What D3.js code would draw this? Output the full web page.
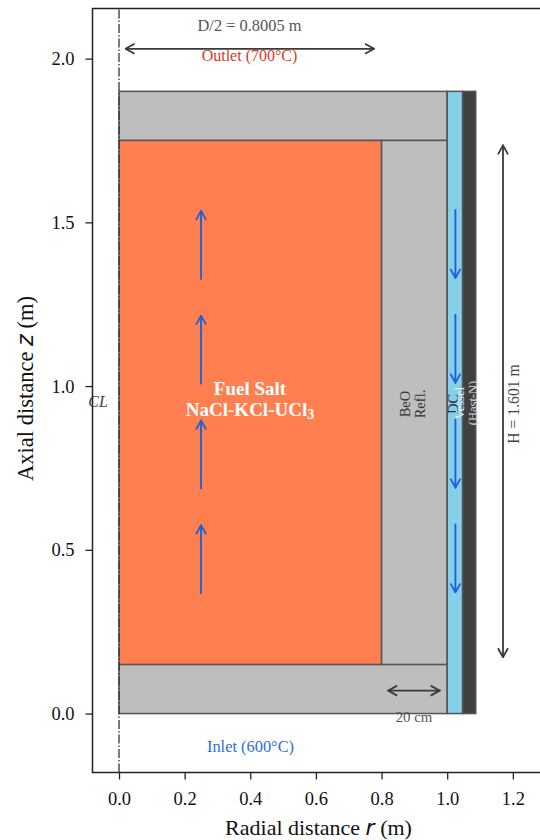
<!DOCTYPE html>
<html>
<head>
<meta charset="utf-8">
<script src="https://cdn.jsdelivr.net/npm/d3@7"></script>
<style>
  html, body { margin: 0; padding: 0; background: #fff; }
  text { font-family: "Liberation Serif", serif; }
</style>
</head>
<body>
<div id="chart"></div>
<script>
const rTicks = [0, 0.2, 0.4, 0.6, 0.8, 1.0, 1.2];
const zTicks = [0, 0.5, 1.0, 1.5, 2.0];

// regions in metres: r start, r end, z start, z end
const regionNames = ["topRefl", "bottomRefl", "core", "radialRefl", "downcomer", "vessel"];
const regionR0 = [0, 0, 0, 0.8, 1.0, 1.047];
const regionR1 = [1.0, 1.0, 0.8, 1.0, 1.047, 1.087];
const regionZ0 = [1.75, 0, 0.15, 0.15, 0, 0];
const regionZ1 = [1.9, 0.15, 1.75, 1.75, 1.9, 1.9];
const regionFill = ["#bebebe", "#bebebe", "#ff7f50", "#bebebe", "#87ceeb", "#404040"];

// flow arrows
const upStart = [0.365, 0.685, 1.005, 1.325];
const upEnd = [0.575, 0.895, 1.215, 1.535];
const downStart = [0.58, 0.9, 1.22, 1.54];
const downEnd = [0.37, 0.69, 1.01, 1.33];
const flowUpR = 0.25;
const flowDownR = 1.025;

const width = 540, height = 840;
const margin = { top: 8.5, left: 92.5, bottom: 772.5 };

const x = d3.scaleLinear().domain([-0.0808, 1.3]).range([margin.left, 119 + 1.3 * 328.2]);
const y = d3.scaleLinear().domain([-0.18, 2.153]).range([margin.bottom, margin.top]);

const svg = d3.select("#chart").append("svg")
  .attr("width", width)
  .attr("height", height)
  .style("display", "block");

const defs = svg.append("defs");
function marker(id, color, w) {
  defs.append("marker")
    .attr("id", id)
    .attr("viewBox", "-11 -6 12 12")
    .attr("refX", 0)
    .attr("refY", 0)
    .attr("markerUnits", "userSpaceOnUse")
    .attr("markerWidth", 12)
    .attr("markerHeight", 12)
    .attr("orient", "auto-start-reverse")
    .append("path")
    .attr("d", "M-9,-5 L0,0 L-9,5")
    .attr("fill", "none")
    .attr("stroke", color)
    .attr("stroke-width", w);
}
marker("headBlue", "#1a62d6", 1.8);
marker("headDark", "#3a3a3a", 1.8);

// geometry
svg.append("g").selectAll("rect")
  .data(regionNames)
  .enter()
  .append("rect")
  .attr("x", (d, i) => x(regionR0[i]))
  .attr("y", (d, i) => y(regionZ1[i]))
  .attr("width", (d, i) => x(regionR1[i]) - x(regionR0[i]))
  .attr("height", (d, i) => y(regionZ0[i]) - y(regionZ1[i]))
  .attr("fill", (d, i) => regionFill[i])
  .attr("stroke", "#555")
  .attr("stroke-width", 1.5);

// centreline
svg.append("line")
  .attr("x1", x(0)).attr("x2", x(0))
  .attr("y1", y.range()[0]).attr("y2", y.range()[1])
  .attr("stroke", "#333")
  .attr("stroke-width", 1.3)
  .attr("stroke-dasharray", "9 2 1.5 2");

// flow arrows
const flow = svg.append("g").attr("stroke", "#1a62d6").attr("stroke-width", 1.9).attr("fill", "none");
upStart.forEach((d, i) => {
  flow.append("line")
    .attr("x1", x(flowUpR)).attr("x2", x(flowUpR))
    .attr("y1", y(d)).attr("y2", y(upEnd[i]))
    .attr("marker-end", "url(#headBlue)");
});
downStart.forEach((d, i) => {
  flow.append("line")
    .attr("x1", x(flowDownR)).attr("x2", x(flowDownR))
    .attr("y1", y(d)).attr("y2", y(downEnd[i]))
    .attr("marker-end", "url(#headBlue)");
});

// dimension arrows
function dimension(r0, z0, r1, z1) {
  svg.append("line")
    .attr("x1", x(r0)).attr("y1", y(z0))
    .attr("x2", x(r1)).attr("y2", y(z1))
    .attr("stroke", "#3a3a3a")
    .attr("stroke-width", 1.8)
    .attr("marker-start", "url(#headDark)")
    .attr("marker-end", "url(#headDark)");
}
dimension(0.02, 2.03, 0.777, 2.03);
dimension(1.17, 0.172, 1.17, 1.735);
dimension(0.82, 0.07, 0.977, 0.07);

function label(px, py, str, size, color, opts = {}) {
  const t = svg.append("text")
    .attr("text-anchor", "middle")
    .attr("fill", color)
    .style("font-size", size + "px")
    .style("font-weight", opts.weight || "normal")
    .style("font-style", opts.style || "normal")
    .attr("transform", `translate(${px},${py})` + (opts.rotate ? ` rotate(${opts.rotate})` : ""))
    .text(str);
  return t;
}

label(249.5, 31, "D/2 = 0.8005 m", 16.4, "#555");
label(249.5, 61, "Outlet (700°C)", 16, "#d83a22");
label(250.5, 752, "Inlet (600°C)", 16.4, "#2a6fdc");
label(414, 722, "20 cm", 14.8, "#555");
label(98, 407, "CL", 16, "#444", { style: "italic" });
label(250, 395, "Fuel Salt", 19, "#fff", { weight: "bold" });
const salt = label(250, 416, "NaCl-KCl-UCl", 19, "#fff", { weight: "bold" });
salt.append("tspan").attr("dy", 3).style("font-size", "14px").text("3");

label(410, 404, "BeO", 14.5, "#333", { rotate: -90 });
label(425, 404, "Refl.", 14.5, "#333", { rotate: -90 });
label(458, 404, "DC", 14.5, "#333", { rotate: -90 });
label(464, 403, "Vessel", 12.5, "#f2f8fc", { rotate: -90 });
label(477, 403, "(Hast-N)", 12.5, "#d8d8d8", { rotate: -90 });
label(519, 404, "H = 1.601 m", 15.7, "#444", { rotate: -90 });

// axes
const xAxis = d3.axisBottom(x).tickValues(rTicks).tickFormat(d3.format(".1f")).tickSize(7).tickPadding(12);
const yAxis = d3.axisLeft(y).tickValues(zTicks).tickFormat(d3.format(".1f")).tickSize(7).tickPadding(11);

const gx = svg.append("g").attr("transform", `translate(0,${margin.bottom})`).call(xAxis);
const gy = svg.append("g").attr("transform", `translate(${margin.left},0)`).call(yAxis);
[gx, gy].forEach(g => {
  g.selectAll("text")
    .style("font-size", "18.5px")
    .attr("fill", "#111");
  g.selectAll("line").attr("stroke", "#222").attr("stroke-width", 1.3);
  g.select(".domain").remove();
});

// spines, the right one falls past the window edge
svg.append("rect")
  .attr("x", margin.left).attr("y", margin.top)
  .attr("width", x.range()[1] - margin.left)
  .attr("height", margin.bottom - margin.top)
  .attr("fill", "none")
  .attr("stroke", "#222")
  .attr("stroke-width", 1.5);

const xLabel = svg.append("text")
  .attr("x", 318.5).attr("y", 835)
  .attr("text-anchor", "middle")
  .attr("fill", "#111")
  .style("font-size", "22px")
  .text("Radial distance ");
xLabel.append("tspan")
  .style("font-family", "'DejaVu Sans'").style("font-style", "oblique").text("r");
xLabel.append("tspan").text(" (m)");

const yLabel = svg.append("text")
  .attr("transform", "translate(33,388.5) rotate(-90)")
  .attr("text-anchor", "middle")
  .attr("fill", "#111")
  .style("font-size", "22.5px")
  .text("Axial distance ");
yLabel.append("tspan")
  .style("font-family", "'DejaVu Sans'").style("font-style", "oblique").text("z");
yLabel.append("tspan").text(" (m)");
</script>
</body>
</html>
